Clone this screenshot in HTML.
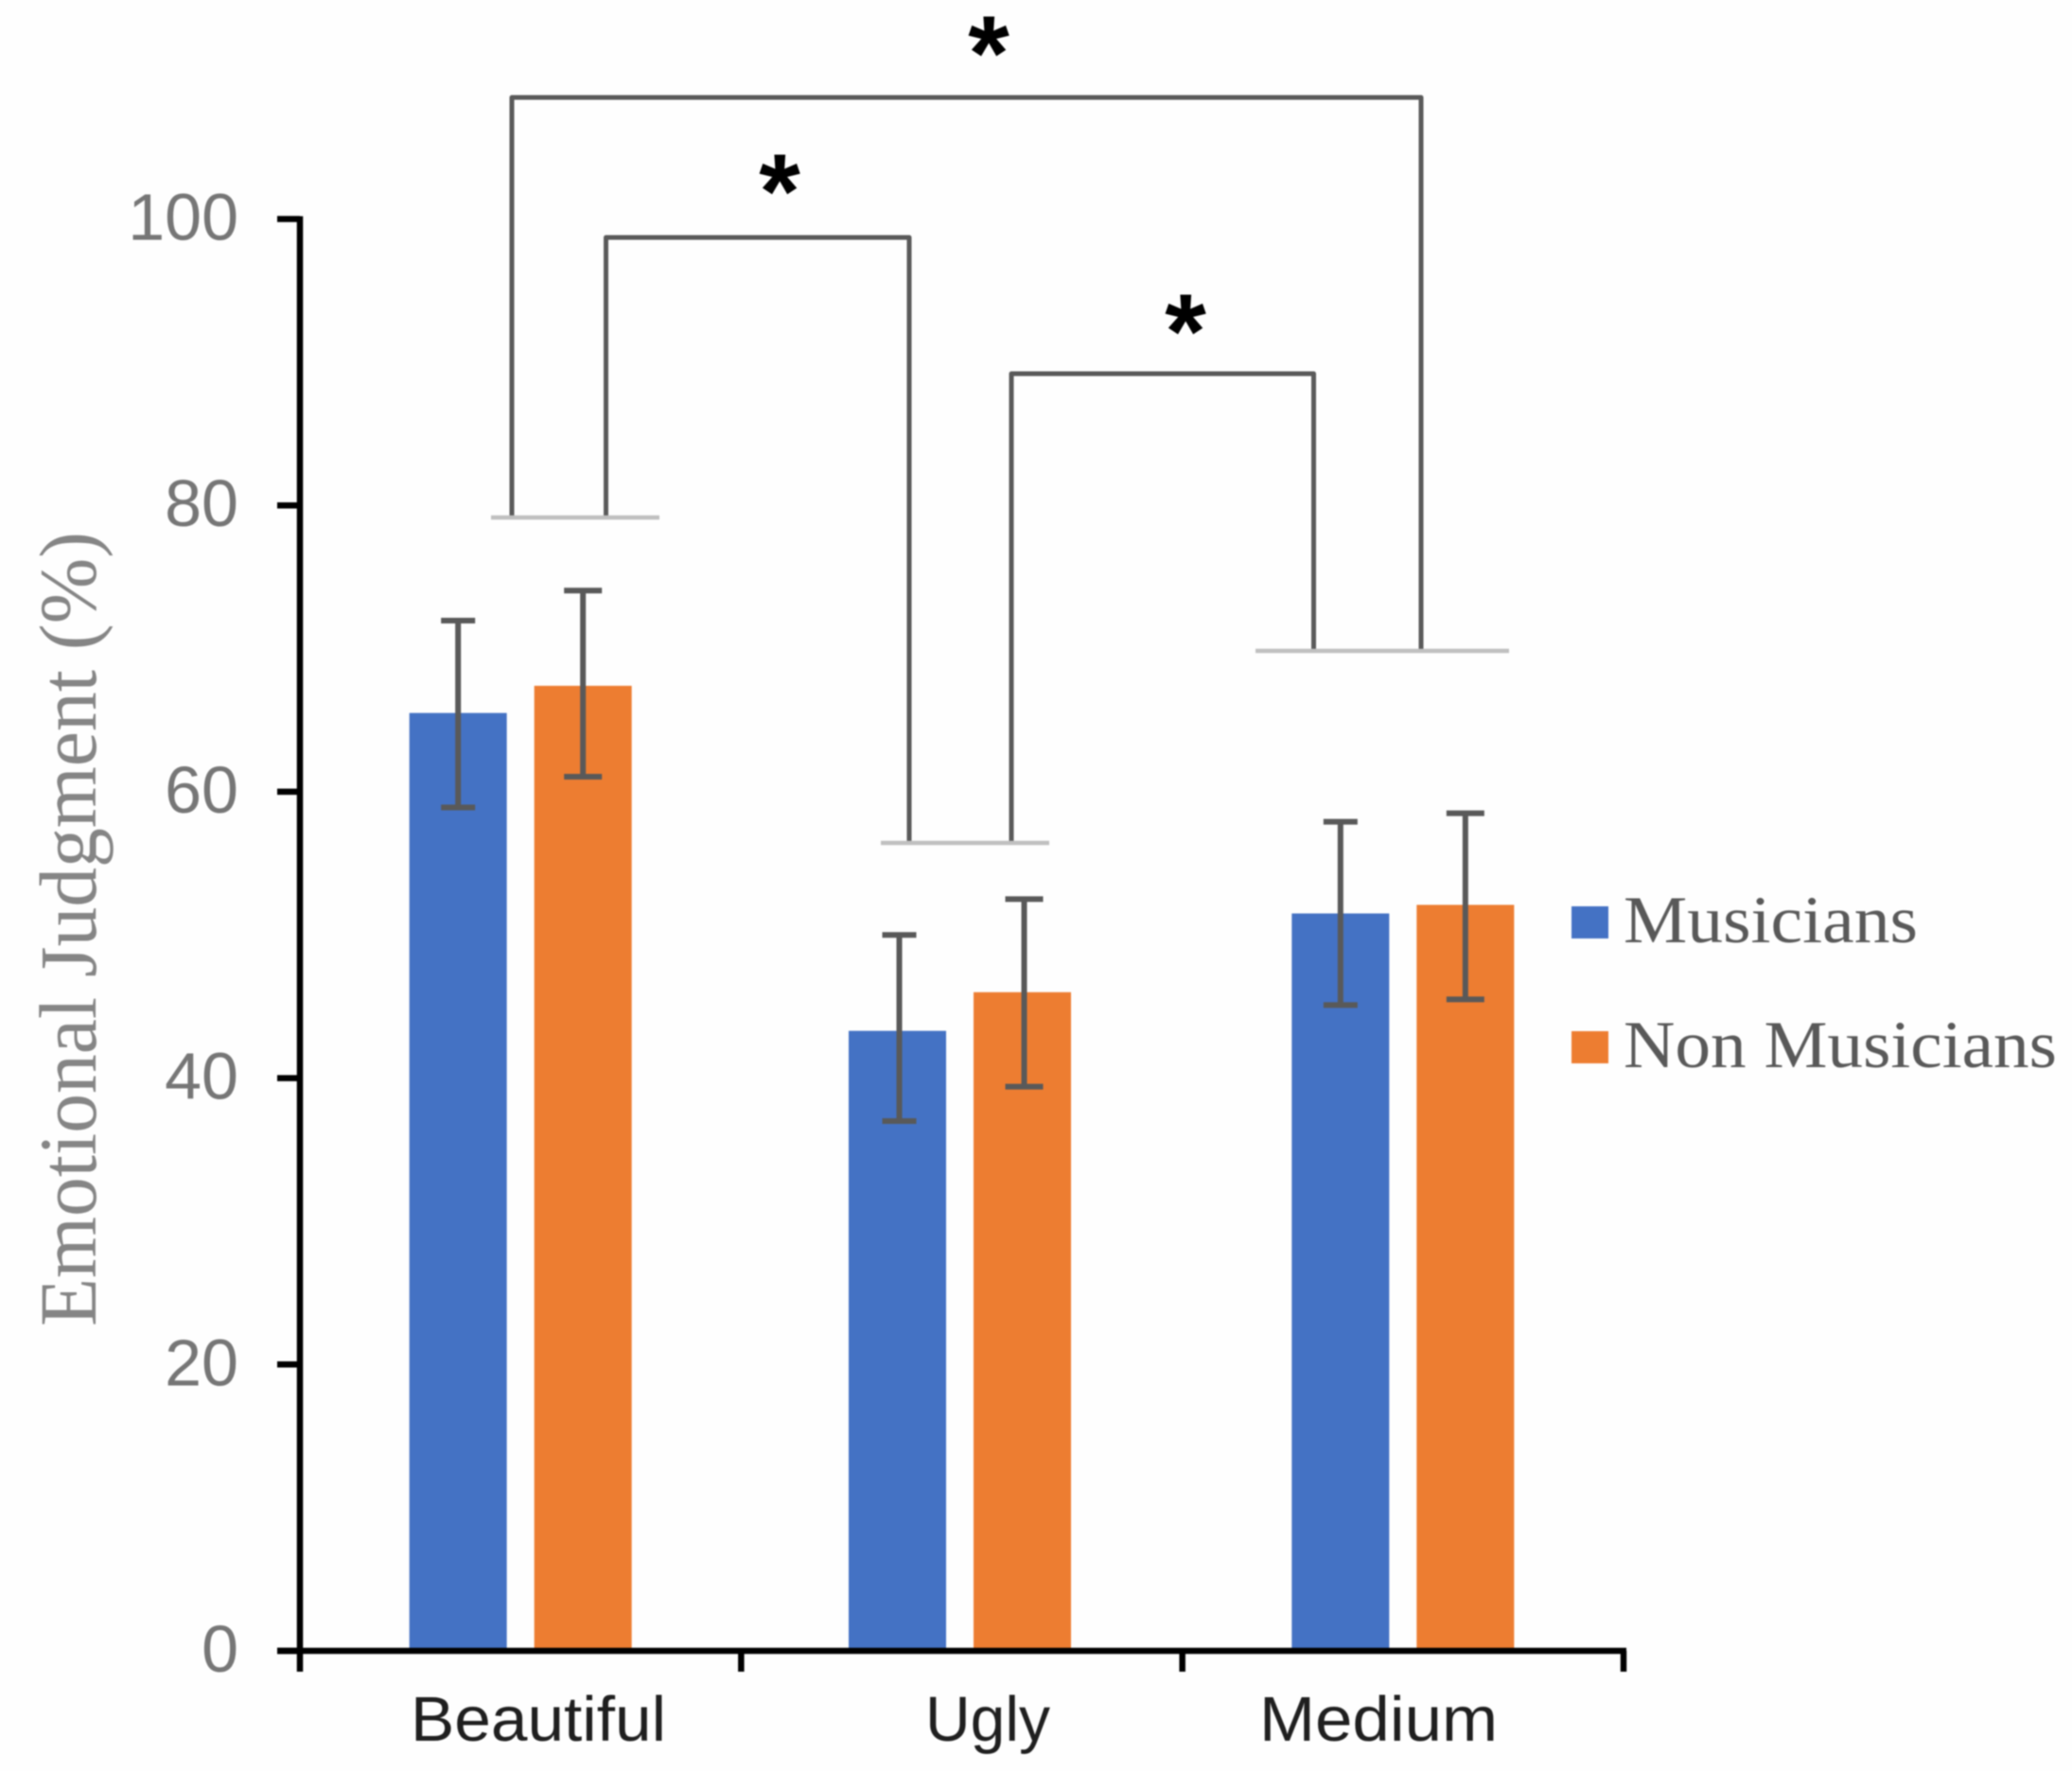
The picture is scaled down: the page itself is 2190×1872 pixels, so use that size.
<!DOCTYPE html>
<html lang="en">
<head>
<meta charset="utf-8">
<title>Emotional Judgment by Group</title>
<style>
  html, body { margin: 0; padding: 0; background: #fefefe; }
  #chart { display: block; width: 2190px; height: 1872px; filter: blur(0.7px); }
  .tick-label { font-family: "Liberation Sans", sans-serif; font-size: 70px; fill: #767676; text-anchor: end; }
  .cat-label { font-family: "Liberation Sans", sans-serif; font-size: 67px; fill: #1f1f1f; }
  .legend-label { font-family: "Liberation Serif", serif; font-size: 71px; fill: #595959; }
  .y-title { font-family: "Liberation Serif", serif; font-size: 86px; fill: #858585; }
  .star { font-family: "Liberation Sans", sans-serif; font-size: 112px; font-weight: 700; fill: #000; text-anchor: middle; }
  .bracket { fill: none; stroke: #5a5a5a; stroke-width: 5; stroke-linejoin: round; }
  .base-line { stroke: #bfbfbf; stroke-width: 4.5; }
</style>
</head>
<body>
<svg id="chart" xmlns="http://www.w3.org/2000/svg" width="2190" height="1872" viewBox="0 0 2190 1872">
  <rect x="0" y="0" width="2190" height="1872" fill="#fefefe"/>

  <g id="bars"></g>
  <g id="errors"></g>
  <g id="axes"></g>

  <text class="y-title" transform="translate(101,1402) rotate(-90)" textLength="840" lengthAdjust="spacingAndGlyphs">Emotional Judgment (%)</text>

  <text class="cat-label" x="434" y="1840" textLength="270" lengthAdjust="spacingAndGlyphs">Beautiful</text>
  <text class="cat-label" x="978" y="1840" textLength="132" lengthAdjust="spacingAndGlyphs">Ugly</text>
  <text class="cat-label" x="1331" y="1840" textLength="252" lengthAdjust="spacingAndGlyphs">Medium</text>

  <path class="bracket" d="M541 547 V103 H1502 V688"/>
  <path class="bracket" d="M640.5 547 V251 H961 V891"/>
  <path class="bracket" d="M1069 891 V395 H1388.5 V688"/>
  <line class="base-line" x1="519" y1="547" x2="697" y2="547"/>
  <line class="base-line" x1="931" y1="891" x2="1109" y2="891"/>
  <line class="base-line" x1="1327" y1="688" x2="1595" y2="688"/>

  <text class="star" x="1045" y="95">*</text>
  <text class="star" x="824" y="241">*</text>
  <text class="star" x="1253" y="389">*</text>

  <g>
    <rect x="1661" y="958" width="39" height="34" fill="#4472c4"/>
    <text class="legend-label" x="1716" y="996" textLength="311" lengthAdjust="spacingAndGlyphs">Musicians</text>
    <rect x="1661" y="1090" width="39" height="34" fill="#ed7d31"/>
    <text class="legend-label" x="1716" y="1128" textLength="458" lengthAdjust="spacingAndGlyphs">Non Musicians</text>
  </g>
</svg>

<script>
const categories = ["Beautiful", "Ugly", "Medium"];
const yTickLabels = [0, 20, 40, 60, 80, 100];
const musicians = [65.5, 43.3, 51.5];
const nonMusicians = [67.4, 46.0, 52.1];
const musiciansErrorHigh = [71.95, 50.0, 57.9];
const musiciansErrorLow = [58.9, 37.0, 45.1];
const nonMusiciansErrorHigh = [74.05, 52.5, 58.5];
const nonMusiciansErrorLow = [61.05, 39.4, 45.5];

const NS = "http://www.w3.org/2000/svg";
const plotLeft = 317, plotRight = 1716, plotBottom = 1745, plotTop = 231.5;
const yMax = 100;
const barWidth = 103, barOffset = 66;

function yScale(v) { return plotBottom - (v / yMax) * (plotBottom - plotTop); }
function bandStart(i) { return plotLeft + i * (plotRight - plotLeft) / categories.length; }
function bandCenter(i) { return (bandStart(i) + bandStart(i + 1)) / 2; }

function make(tag, attrs, parent) {
  const el = document.createElementNS(NS, tag);
  for (const k in attrs) el.setAttribute(k, attrs[k]);
  parent.appendChild(el);
  return el;
}

const barsGroup = document.getElementById("bars");
const errorsGroup = document.getElementById("errors");
const axesGroup = document.getElementById("axes");

function barNudge(i) { return categories[i] === "Ugly" ? -2 : 0; }

function drawSeries(values, high, low, offset, color, capHalf, seriesName) {
  values.forEach(function (v, i) {
    const cx = bandCenter(i) + offset;
    const bar = make("rect", {
      x: cx + barNudge(i) - barWidth / 2,
      y: yScale(v),
      width: barWidth,
      height: plotBottom - yScale(v),
      fill: color
    }, barsGroup);
    
    

    const err = make("path", {
      d: "M" + (cx - capHalf) + " " + yScale(high[i]) + " H" + (cx + capHalf) +
         " M" + cx + " " + yScale(high[i]) + " V" + yScale(low[i]) +
         " M" + (cx - capHalf) + " " + yScale(low[i]) + " H" + (cx + capHalf),
      fill: "none",
      stroke: "#595959",
      "stroke-width": 6
    }, errorsGroup);
    
    
  });
}

drawSeries(musicians, musiciansErrorHigh, musiciansErrorLow, -barOffset, "#4472c4", 18, "musicians");
drawSeries(nonMusicians, nonMusiciansErrorHigh, nonMusiciansErrorLow, barOffset, "#ed7d31", 20, "non-musicians");

const yAxisLine = make("line", {
  x1: plotLeft, y1: plotTop - 3, x2: plotLeft, y2: plotBottom + 22,
  stroke: "#000", "stroke-width": 6.5
}, axesGroup);



const xAxisLine = make("line", {
  x1: 293, y1: plotBottom, x2: plotRight + 3, y2: plotBottom,
  stroke: "#000", "stroke-width": 6.5
}, axesGroup);



yTickLabels.forEach(function (t) {
  const tick = make("line", {
    x1: 293, y1: yScale(t), x2: plotLeft, y2: yScale(t),
    stroke: "#000", "stroke-width": 6.5
  }, axesGroup);
  
  

  const label = make("text", {
    x: 252, y: yScale(t) + 22, class: "tick-label"
  }, axesGroup);
  label.textContent = String(t);
  
  
});

for (let i = 1; i <= categories.length; i++) {
  const tick = make("line", {
    x1: bandStart(i), y1: plotBottom, x2: bandStart(i), y2: plotBottom + 22,
    stroke: "#000", "stroke-width": 6.5
  }, axesGroup);
  
  
}
</script>
</body>
</html>
